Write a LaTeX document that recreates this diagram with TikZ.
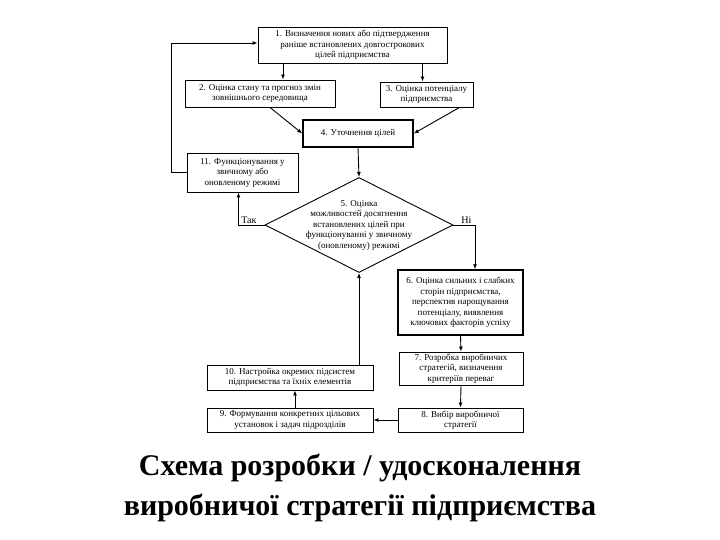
\documentclass[tikz,border=0pt]{standalone}
\usepackage{fontspec}
\setmainfont{Liberation Serif}
\usetikzlibrary{arrows.meta,positioning,calc,shapes.geometric}

\begin{document}
\begin{tikzpicture}[x=1pt,y=-1pt,
  stage/.style={draw,line width=0.9pt,inner sep=1pt,align=center,font=\fontsize{9}{10.5}\selectfont},
  heavy/.style={line width=1.5pt},
  arr/.style={-{Latex[length=5pt,width=4pt]},line width=0.9pt},
  tag/.style={font=\fontsize{10}{12}\selectfont,inner sep=1pt}
]
  \useasboundingbox (0,0) rectangle (720,540);
  \node[stage,minimum width=189,minimum height=36] (s1) at (352.5,45) {1. Визначення нових або підтвердження\\раніше встановлених довгострокових\\цілей підприємства};
  \node[stage,minimum width=150,minimum height=27] (s2) at (260,93.5) {2. Оцінка стану та прогноз змін\\зовнішнього середовища};
  \node[stage,minimum width=93,minimum height=25] (s3) at (426.5,94.5) {3. Оцінка потенціалу\\підприємства};
  \node[stage,heavy,minimum width=110,minimum height=27] (s4) at (358,133.5) {4. Уточнення цілей};
  \node[stage,minimum width=111,minimum height=39] (s11) at (242.5,172.5) {11. Функціонування у\\звичному або\\оновленому режимі};
  \node[draw,diamond,line width=0.9pt,minimum width=188,minimum height=95,inner sep=0pt] (d5) at (359,225) {};
  \node[align=center,font=\fontsize{9}{10.5}\selectfont] (q5) at (d5.center) {5. Оцінка\\можливостей досягнення\\встановлених цілей при\\функціонуванні у звичному\\(оновленому) режимі};
  \node[stage,heavy,minimum width=125,minimum height=65] (s6) at (460.5,302.5) {6. Оцінка сильних і слабких\\сторін підприємства,\\перспектив нарощування\\потенціалу, виявлення\\ключових факторів успіху};
  \node[stage,minimum width=124,minimum height=33] (s7) at (461,368.5) {7. Розробка виробничих\\стратегій, визначення\\критеріїв переваг};
  \node[stage,minimum width=125,minimum height=24] (s8) at (460.5,420) {8. Вибір виробничої\\стратегії};
  \node[stage,minimum width=166,minimum height=24] (s9) at (290,420) {9. Формування конкретних цільових\\установок і задач підрозділів};
  \node[stage,minimum width=166,minimum height=25] (s10) at (290,377.5) {10. Настройка окремих підсистем\\підприємства та їхніх елементів};
  \node[align=center,font=\bfseries\fontsize{30}{40}\selectfont] (title) at (360,488) {Схема розробки / удосконалення\\виробничої стратегії підприємства};

  % top part
  \draw[arr] ([xshift=23pt]s2.north |- s1.south) -- ([xshift=23pt]s2.north);
  \draw[arr] ([xshift=-4pt]s3.north |- s1.south) -- ([xshift=-4pt]s3.north);
  \draw[arr] ([xshift=10pt]s2.south) -- (s4.west);
  \draw[arr] ([xshift=33pt]s3.south) -- (s4.east);
  \draw[arr] (s4.south) -- (d5.north);
  % decision
  \draw[arr] (d5.west) -| node[tag,pos=0.3,above] (yes) {Так} ([xshift=-4pt]s11.south);
  \draw[arr] (d5.east) -| node[tag,pos=0.3,above] (no) {Ні} ([xshift=14.5pt]s6.north);
  \draw[arr] (s11.west) -- ++(-15,0) |- ([yshift=2pt]s1.west);
  % lower part
  \draw[arr] (s6.south) -- (s7.north);
  \draw[arr] (s7.south) -- (s8.north);
  \draw[arr] (s8.west) -- (s9.east);
  \draw[arr] ([xshift=5pt]s9.north) -- ([xshift=5pt]s10.south);
  \draw[arr] (d5.south |- s10.north) -- (d5.south);
\end{tikzpicture}
\end{document}
